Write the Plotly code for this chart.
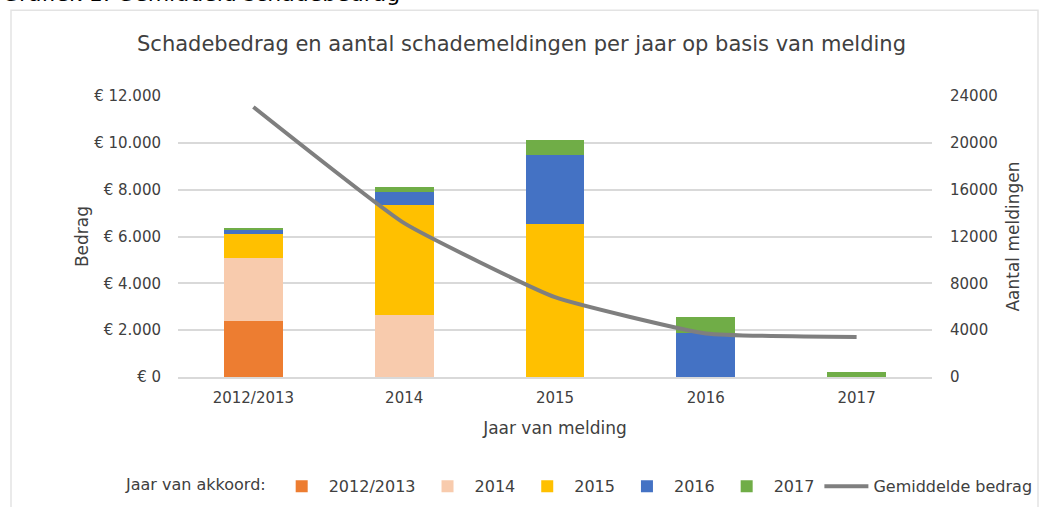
import plotly.graph_objects as go

categories = ["2012/2013", "2014", "2015", "2016", "2017"]
# Bedrag per jaar van melding, opgesplitst naar jaar van akkoord
akkoord_2012_2013 = [2400, 0, 0, 0, 0]
akkoord_2014 = [2680, 2640, 0, 0, 0]
akkoord_2015 = [1030, 4710, 6520, 0, 0]
akkoord_2016 = [200, 570, 2980, 1880, 0]
akkoord_2017 = [60, 190, 630, 690, 210]
# Lijn op de rechter as (Aantal meldingen)
gemiddelde_bedrag = [23060, 13140, 6820, 3720, 3420]

W, H = 1043, 507
L, R, T, B = 178, 932, 95.7, 376.7

def px_x(x):
    return (x - L) / (R - L)

def px_y(y):
    return (B - y) / (B - T)

FONT = "DejaVu Sans, Verdana, sans-serif"
TXT = "#404040"

fig = go.Figure()
series = [
    ("2012/2013", akkoord_2012_2013, "#ED7D31"),
    ("2014", akkoord_2014, "#F8CBAD"),
    ("2015", akkoord_2015, "#FFC000"),
    ("2016", akkoord_2016, "#4472C4"),
    ("2017", akkoord_2017, "#70AD47"),
]
for name, vals, col in series:
    fig.add_trace(go.Bar(x=categories, y=vals, name=name, marker_color=col,
                         marker_line_width=0, yaxis="y", hoverinfo="skip"))

fig.add_trace(go.Scatter(x=categories, y=gemiddelde_bedrag, name="Gemiddelde bedrag",
                         mode="lines", line=dict(color="#7F7F7F", width=4, shape="spline", smoothing=0.4),
                         yaxis="y2", hoverinfo="skip"))

fig.update_layout(
    width=W, height=H,
    margin=dict(l=L, r=W - R, t=T, b=H - B, pad=0, autoexpand=False),
    paper_bgcolor="white", plot_bgcolor="white",
    barmode="stack", bargap=0.61,
    font=dict(family=FONT, size=15, color=TXT),
    title=dict(text="Schadebedrag en aantal schademeldingen per jaar op basis van melding",
               x=0.5, xanchor="center", y=1 - 44 / H, yanchor="middle",
               font=dict(family=FONT, size=21, color=TXT)),
    xaxis=dict(showgrid=False, showline=True, linecolor="#D9D9D9", linewidth=1.5,
               ticks="", ticklabelstandoff=6, tickfont=dict(size=15, color=TXT), automargin=False,
               title=dict(text="Jaar van melding", font=dict(size=17, color=TXT), standoff=16)),
    yaxis=dict(range=[0, 12000], tickvals=[0, 2000, 4000, 6000, 8000, 10000, 12000],
               ticktext=["€ 0", "€ 2.000", "€ 4.000", "€ 6.000", "€ 8.000", "€ 10.000", "€ 12.000"],
               showgrid=True, gridcolor="#D9D9D9", gridwidth=1.5, zeroline=False, automargin=False,
               ticks="", ticklabelstandoff=16, tickfont=dict(size=15, color=TXT),
               title=dict(text="Bedrag", font=dict(size=17, color=TXT), standoff=1)),
    yaxis2=dict(range=[0, 24000], tickvals=[0, 4000, 8000, 12000, 16000, 20000, 24000],
                tickformat="d", automargin=False,
                overlaying="y", side="right", showgrid=False, zeroline=False,
                ticks="", ticklabelstandoff=17, tickfont=dict(size=15, color=TXT),
                title=dict(text="Aantal meldingen", font=dict(size=17, color=TXT), standoff=10)),
    legend=dict(orientation="h", x=px_x(124), xanchor="left", y=px_y(486), yanchor="middle",
                title=dict(text="Jaar van akkoord:", side="left", font=dict(family=FONT, size=16, color=TXT)),
                font=dict(family=FONT, size=16, color=TXT), traceorder="normal",
                itemwidth=44, tracegroupgap=0, bgcolor="rgba(0,0,0,0)"),
    shapes=[dict(type="rect", xref="paper", yref="paper",
                 x0=px_x(11), x1=px_x(1038), y0=px_y(520), y1=px_y(10),
                 line=dict(color="#E3E3E3", width=1.5), fillcolor="rgba(0,0,0,0)", layer="below")],
    annotations=[dict(text="Grafiek 1: Gemiddeld schadebedrag", xref="paper", yref="paper",
                      x=px_x(0), xanchor="left", y=px_y(8), yanchor="bottom", showarrow=False,
                      font=dict(family=FONT, size=22, color="#000000"))],
)

fig.write_html("out.html", config={"displayModeBar": False},
               post_script="document.body.style.margin='0';document.body.style.padding='0';document.body.style.overflow='hidden';")
